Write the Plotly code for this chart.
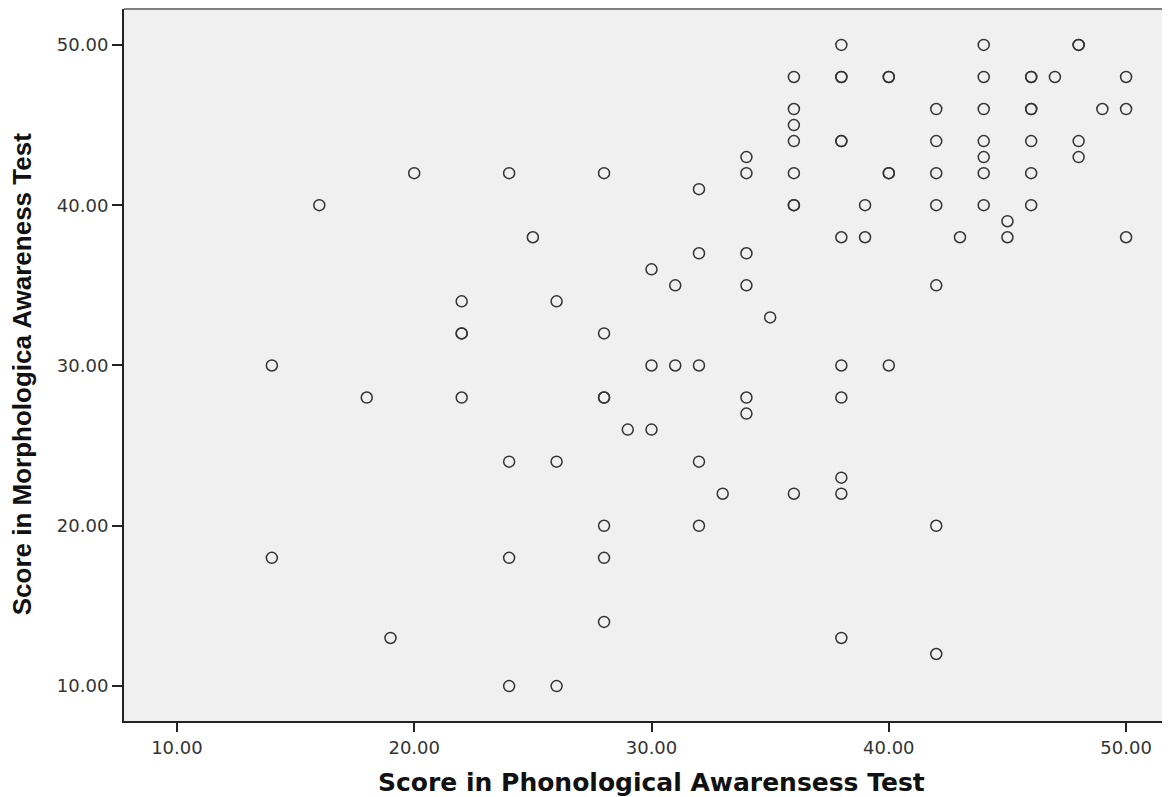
import plotly.graph_objects as go

# Phonological awareness (x) and morphological awareness (y) scores
phon = [38, 44, 48, 48,
        36, 38, 38, 40, 40, 44, 46, 46, 47, 50,
        36, 42, 44, 46, 46, 49, 50,
        36,
        36, 38, 38, 42, 44, 46, 48,
        34, 44, 48,
        20, 24, 28, 34, 36, 40, 40, 42, 44, 46,
        32,
        16, 36, 36, 39, 42, 44, 46,
        45,
        25, 38, 39, 43, 45, 50,
        32, 34,
        30,
        31, 34, 42,
        22, 26,
        35,
        22, 22, 28,
        14, 30, 31, 32, 38, 40,
        18, 22, 28, 28, 34, 38,
        34,
        29, 30,
        24, 26, 32,
        38,
        33, 36, 38,
        28, 32, 42,
        14, 24, 28,
        28,
        19, 38,
        42,
        24, 26]
morph = [50, 50, 50, 50,
         48, 48, 48, 48, 48, 48, 48, 48, 48, 48,
         46, 46, 46, 46, 46, 46, 46,
         45,
         44, 44, 44, 44, 44, 44, 44,
         43, 43, 43,
         42, 42, 42, 42, 42, 42, 42, 42, 42, 42,
         41,
         40, 40, 40, 40, 40, 40, 40,
         39,
         38, 38, 38, 38, 38, 38,
         37, 37,
         36,
         35, 35, 35,
         34, 34,
         33,
         32, 32, 32,
         30, 30, 30, 30, 30, 30,
         28, 28, 28, 28, 28, 28,
         27,
         26, 26,
         24, 24, 24,
         23,
         22, 22, 22,
         20, 20, 20,
         18, 18, 18,
         14,
         13, 13,
         12,
         10, 10]

tick_vals = [10, 20, 30, 40, 50]
tick_text = ["10.00", "20.00", "30.00", "40.00", "50.00"]

x_title = "Score in Phonological Awarensess Test"
y_title = "Score in Morphologica Awareness Test"

fig = go.Figure(go.Scatter(
    x=phon, y=morph, mode="markers",
    marker=dict(symbol="circle-open", size=11, color="#333333",
                line=dict(width=1.5, color="#333333")),
    hoverinfo="x+y",
))

axis_font = dict(family="DejaVu Sans, sans-serif", size=18, color="#333333")

fig.update_layout(
    width=1162, height=789,
    margin=dict(l=116, r=0, t=1, b=76),
    paper_bgcolor="white",
    plot_bgcolor="#F0F0F0",
    showlegend=False,
    xaxis=dict(
        range=[7.77, 51.85], tickvals=tick_vals, ticktext=tick_text,
        showgrid=False, zeroline=False,
        showline=True, linecolor="#222222", linewidth=2,
        ticks="outside", ticklen=9, tickwidth=2, tickcolor="#222222",
        tickfont=axis_font,
    ),
    yaxis=dict(
        range=[7.82, 52.24], tickvals=tick_vals, ticktext=tick_text,
        showgrid=False, zeroline=False,
        showline=True, linecolor="#222222", linewidth=2,
        ticks="outside", ticklen=10, tickwidth=2, tickcolor="#222222",
        tickfont=axis_font,
    ),
    shapes=[dict(type="line", xref="paper", yref="paper", x0=0, x1=1, y0=1, y1=1,
                 line=dict(color="#808080", width=2))],
    annotations=[
        dict(text="<b>" + x_title + "</b>", xref="paper", yref="paper",
             x=0.504, y=-0.0857, xanchor="center", yanchor="middle", showarrow=False,
             font=dict(family="DejaVu Sans, sans-serif", size=25, color="#111111")),
        dict(text="<b>" + y_title + "</b>", xref="paper", yref="paper",
             x=-0.0975, y=0.487, xanchor="center", yanchor="middle", showarrow=False,
             textangle=-90,
             font=dict(family="Liberation Sans, Arial, sans-serif", size=26, color="#111111")),
    ],
)

fig.write_html("out.html")
